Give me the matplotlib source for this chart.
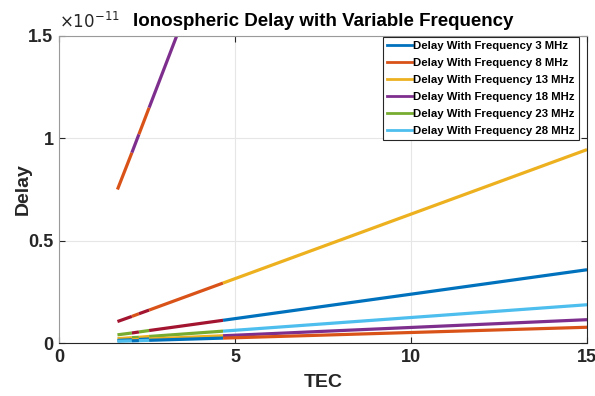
import numpy as np
import matplotlib
matplotlib.use('Agg')
import matplotlib.pyplot as plt
from matplotlib.lines import Line2D

plt.rcParams['font.family'] = ['Liberation Sans', 'DejaVu Sans']

# TEC break points where the traces change colour
tec = [1.66, 2.07, 2.27, 2.56, 4.66, 15.0]

# delay values (x 1e-11) for each frequency
delay_3 = [0.75, 0.93, 1.02, 1.15, 2.09, 6.72]
delay_8 = [0.105, 0.13, 0.143, 0.161, 0.293, 0.945]
delay_13 = [0.040, 0.049, 0.054, 0.061, 0.111, 0.358]
delay_18 = [0.021, 0.026, 0.028, 0.032, 0.058, 0.187]
delay_23 = [0.0127, 0.0158, 0.0173, 0.0195, 0.0355, 0.114]
delay_28 = [0.0085, 0.0106, 0.0117, 0.0132, 0.024, 0.077]

labels = ['Delay With Frequency 3 MHz', 'Delay With Frequency 8 MHz',
          'Delay With Frequency 13 MHz', 'Delay With Frequency 18 MHz',
          'Delay With Frequency 23 MHz', 'Delay With Frequency 28 MHz']

# matlab default colour order
c = {'blue': '#0072BD', 'orange': '#D95319', 'yellow': '#EDB120',
     'purple': '#7E2F8E', 'green': '#77AC30', 'cyan': '#4DBEEE',
     'darkred': '#A2142F'}
legend_cols = ['blue', 'orange', 'yellow', 'purple', 'green', 'cyan']

# colour of every segment of each trace
seg_cols = [
    ['orange', 'purple', 'orange', 'purple', 'purple'],
    ['darkred', 'orange', 'darkred', 'orange', 'yellow'],
    ['green', 'darkred', 'green', 'darkred', 'blue'],
    ['yellow', 'green', 'yellow', 'green', 'cyan'],
    ['blue', 'yellow', 'blue', 'yellow', 'purple'],
    ['cyan', 'blue', 'cyan', 'blue', 'orange'],
]

delays = [delay_3, delay_8, delay_13, delay_18, delay_23, delay_28]

fig = plt.figure(figsize=(5.95, 3.96), dpi=100)
ax = fig.add_axes([0.0992, 0.1338, 0.8874, 0.7753])

for d, cols in zip(delays, seg_cols):
    for j in range(len(tec) - 1):
        ax.plot(tec[j:j + 2], d[j:j + 2], color=c[cols[j]], lw=2.3,
                solid_capstyle='butt')

ax.set_xlim(0, 15)
ax.set_ylim(0, 1.5)
ax.set_xticks([0, 5, 10, 15])
ax.set_yticks([0, 0.5, 1, 1.5])
ax.set_yticklabels(['0', '0.5', '1', '1.5'])
ax.grid(True, color='#e6e6e6', lw=0.8)
ax.set_axisbelow(True)
ax.tick_params(direction='in', top=True, right=True, length=4,
               labelsize=13, colors='#262626', pad=4)
for lab in ax.get_xticklabels() + ax.get_yticklabels():
    lab.set_fontweight('bold')
for s in ['bottom', 'right']:
    ax.spines[s].set_color('#262626')
for s in ['top', 'left']:
    ax.spines[s].set_color('#9a9a9a')

ax.text(0.0, 1.012, r'$\times10^{-11}$', transform=ax.transAxes,
        fontsize=12, color='#262626', ha='left', va='bottom',
        fontfamily='DejaVu Sans')
ax.set_title('Ionospheric Delay with Variable Frequency', fontsize=13.5,
             fontweight='bold', pad=7)
ax.set_xlabel('TEC', fontsize=14, fontweight='bold', color='#262626', labelpad=6)
ax.set_ylabel('Delay', fontsize=14, fontweight='bold', color='#262626')
ax.yaxis.set_label_coords(-0.052, 0.5)

handles = [Line2D([0], [0], color=c[k], lw=2) for k in legend_cols]
leg = ax.legend(handles, labels, loc='upper right',
                bbox_to_anchor=(0.973, 0.907), bbox_transform=fig.transFigure,
                borderaxespad=0, fancybox=False, framealpha=1,
                edgecolor='#262626', handlelength=2.2, handletextpad=0.15,
                labelspacing=0.62, borderpad=0.35,
                prop={'size': 8.2, 'weight': 'bold'})
leg.get_frame().set_linewidth(0.8)

fig.savefig('out.png', dpi=100)
